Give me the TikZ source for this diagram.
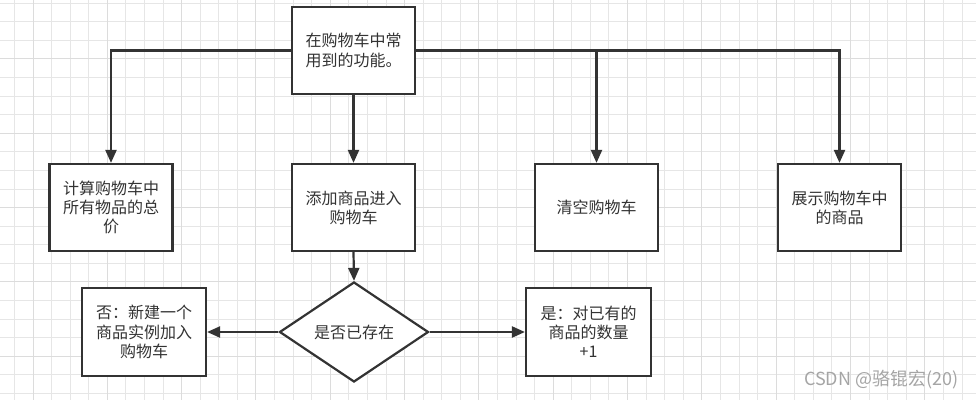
\documentclass[tikz,border=0pt]{standalone}
\usepackage{fontspec}
\setmainfont{Noto Sans CJK SC}
\usetikzlibrary{positioning}
\usetikzlibrary{arrows.meta}
\usetikzlibrary{shapes}
\definecolor{line-gray}{RGB}{51,51,51}
\definecolor{grid-minor}{RGB}{230,230,230}
\definecolor{grid-major}{RGB}{220,220,220}
\definecolor{mark-gray}{RGB}{165,165,165}

\begin{document}
\begin{tikzpicture}[x=1pt, y=-1pt, >={Triangle[length=13pt,width=11pt]},
  box/.style={draw=line-gray, line width=2.2pt, fill=white, minimum width=123pt, minimum height=87pt,
    inner sep=2pt, align=center, text=line-gray, font=\fontsize{16pt}{19.2pt}\selectfont},
  check/.style={diamond, draw=line-gray, line width=2.2pt, fill=white, minimum width=149pt, minimum height=100pt,
    inner sep=0pt, align=center, text=line-gray, font=\fontsize{16pt}{19.2pt}\selectfont},
  link/.style={draw=line-gray, line width=2.2pt}]

\useasboundingbox (0,0) rectangle (976,400);
\fill [white] (0,0) rectangle (976,400);

% background grid
\foreach \i in {0,...,51}
  \draw [grid-minor, line width=1pt] ({14.42+18.58*\i},0) -- ({14.42+18.58*\i},400);
\foreach \j in {0,...,21}
  \draw [grid-minor, line width=1pt] (0,{3.2+18.58*\j}) -- (976,{3.2+18.58*\j});
\foreach \i in {1,5,...,49}
  \draw [grid-major, line width=1pt] ({14.42+18.58*\i},0) -- ({14.42+18.58*\i},400);
\foreach \j in {3,7,...,19}
  \draw [grid-major, line width=1pt] (0,{3.2+18.58*\j}) -- (976,{3.2+18.58*\j});

\node [box] (goal) at (353.5,50.5) {在购物车中常\\用到的功能。};

\node [box] (total) at (111,207.5) {计算购物车中\\所有物品的总\\价};
\node [box] (add) at (353.5,207.5) {添加商品进入\\购物车};
\node [box] (clear) at (596.5,207.5) {清空购物车};
\node [box] (show) at (839.5,207.5) {展示购物车中\\的商品};

\node [check] (exist) at (354,332) {是否已存在};
\node [box, minimum width=124pt, minimum height=88pt] (no) at (144,332) {否：新建一个\\商品实例加入\\购物车};
\node [box, minimum width=125pt, minimum height=88pt] (yes) at (588.5,332) {是：对已有的\\商品的数量\\+1};

\draw [link, ->] (goal.west) -| (total.north);
\draw [link, ->] (goal.east) -| (clear.north);
\draw [link, ->] (goal.east) -| (show.north);
\draw [link, ->] (goal.south) -- (add.north);
\draw [link, ->] (add.south) -- (exist.north);
\draw [link, ->] (exist.west) -- (no.east);
\draw [link, ->] (exist.east) -- (yes.west);

\node [mark-gray, anchor=east, font=\fontsize{18pt}{18pt}\selectfont] (mark) at (962,380) {CSDN @骆锟宏(20)};

\end{tikzpicture}
\end{document}
